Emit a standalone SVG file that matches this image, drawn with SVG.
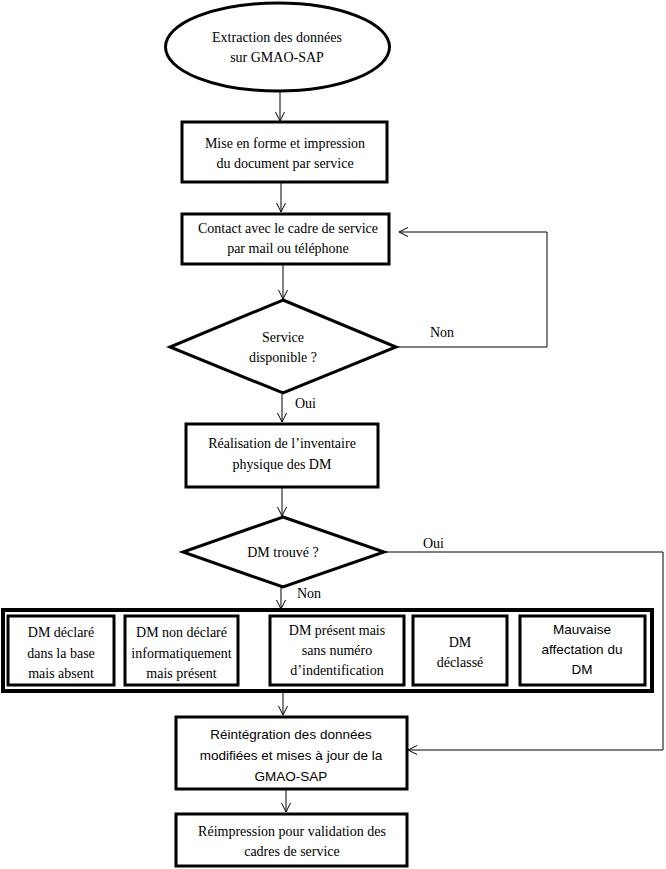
<svg xmlns="http://www.w3.org/2000/svg" width="666" height="869" viewBox="0 0 666 869">
<style>
.shape{fill:#fff;stroke:#000;stroke-width:3}
.outer{fill:#fff;stroke:#000;stroke-width:4}
.t{font-family:"Liberation Serif","Times New Roman",serif;font-size:14px;fill:#000;text-anchor:middle}
.s{font-family:"Liberation Sans",Arial,sans-serif;font-size:13.5px;fill:#000;text-anchor:middle}
.lbl{font-family:"Liberation Serif","Times New Roman",serif;font-size:14px;fill:#000}
.c{fill:none;stroke:#000;stroke-width:1}
</style>
<defs>
<marker id="arr" markerUnits="userSpaceOnUse" markerWidth="10" markerHeight="10" viewBox="0 0 10 10" refX="10" refY="5" orient="auto">
<path d="M1,0.5 L10,5 L1,9.5" fill="none" stroke="#000" stroke-width="1"/>
</marker>
</defs>
<rect width="666" height="869" fill="#fff"/>
<g id="connectors">
<path class="c" d="M280,92 L280,121" marker-end="url(#arr)"/>
<path class="c" d="M281,183 L281,212" marker-end="url(#arr)"/>
<path class="c" d="M283,264 L283,299" marker-end="url(#arr)"/>
<path class="c" d="M396,347 L547,347 L547,232 L399,232" marker-end="url(#arr)"/>
<path class="c" d="M282,393 L282,422" marker-end="url(#arr)"/>
<path class="c" d="M282,487 L282,516" marker-end="url(#arr)"/>
<path class="c" d="M384,552 L663,552 L663,750 L408,750" marker-end="url(#arr)"/>
<path class="c" d="M281,587 L281,609" marker-end="url(#arr)"/>
<path class="c" d="M283,691 L283,715" marker-end="url(#arr)"/>
<path class="c" d="M286,789 L286,812" marker-end="url(#arr)"/>
<text class="lbl" x="430" y="337">Non</text>
<text class="lbl" x="295" y="408">Oui</text>
<text class="lbl" x="423" y="548">Oui</text>
<text class="lbl" x="297" y="598">Non</text>
</g>
<g id="n-extraction">
<ellipse class="shape" cx="277.5" cy="47" rx="112" ry="44"/>
<text class="t" x="277" y="42">Extraction des données</text>
<text class="t" x="277" y="62">sur GMAO-SAP</text>
</g>
<g id="n-mise-en-forme">
<rect class="shape" x="182" y="122" width="205" height="60"/>
<text class="t" x="285" y="148">Mise en forme et impression</text>
<text class="t" x="285" y="168">du document par service</text>
</g>
<g id="n-contact">
<rect class="shape" x="182" y="214" width="207" height="50"/>
<text class="t" x="288" y="233">Contact avec le cadre de service</text>
<text class="t" x="288" y="253">par mail  ou téléphone</text>
</g>
<g id="n-service-dispo">
<polygon class="shape" points="283,300 396,347 283,393 170,347"/>
<text class="t" x="283" y="342">Service</text>
<text class="t" x="283" y="362">disponible  ?</text>
</g>
<g id="n-realisation">
<rect class="shape" x="186" y="424" width="192" height="63"/>
<text class="t" x="282" y="448">Réalisation de  l’inventaire</text>
<text class="t" x="282" y="469">physique des DM</text>
</g>
<g id="n-dm-trouve">
<polygon class="shape" points="283,517 384,552 283,587 183,552"/>
<text class="t" x="283" y="557">DM trouvé ?</text>
</g>
<g id="n-cas">
<rect class="outer" x="3" y="610" width="649" height="81"/>
<g id="n-cas-absent">
<rect class="shape" x="8" y="616" width="106" height="69"/>
<text class="t" x="61" y="637">DM déclaré</text>
<text class="t" x="61" y="658">dans la base</text>
<text class="t" x="61" y="678">mais absent</text>
</g>
<g id="n-cas-non-declare">
<rect class="shape" x="125" y="616" width="113" height="69"/>
<text class="t" x="181.5" y="637">DM non déclaré</text>
<text class="t" x="181.5" y="658">informatiquement</text>
<text class="t" x="181.5" y="678">mais présent</text>
</g>
<g id="n-cas-sans-numero">
<rect class="shape" x="270" y="616" width="134" height="69"/>
<text class="t" x="337" y="635">DM présent mais</text>
<text class="t" x="337" y="655">sans numéro</text>
<text class="t" x="337" y="675">d’indentification</text>
</g>
<g id="n-cas-declasse">
<rect class="shape" x="413" y="616" width="94" height="69"/>
<text class="t" x="460" y="647">DM</text>
<text class="t" x="460" y="667">déclassé</text>
</g>
<g id="n-cas-affectation">
<rect class="shape" x="520" y="616" width="125" height="69"/>
<text class="s" x="582" y="634">Mauvaise</text>
<text class="s" x="582" y="654">affectation du</text>
<text class="s" x="582" y="674">DM</text>
</g>
</g>
<g id="n-reintegration">
<rect class="shape" x="176" y="717" width="231" height="72"/>
<text class="s" x="291" y="739">Réintégration des données</text>
<text class="s" x="291" y="760">modifiées et mises à jour de la</text>
<text class="s" x="291" y="781">GMAO-SAP</text>
</g>
<g id="n-reimpression">
<rect class="shape" x="176" y="814" width="231" height="52"/>
<text class="t" x="292" y="836">Réimpression pour validation  des</text>
<text class="t" x="292" y="856">cadres de service</text>
</g>
</svg>
